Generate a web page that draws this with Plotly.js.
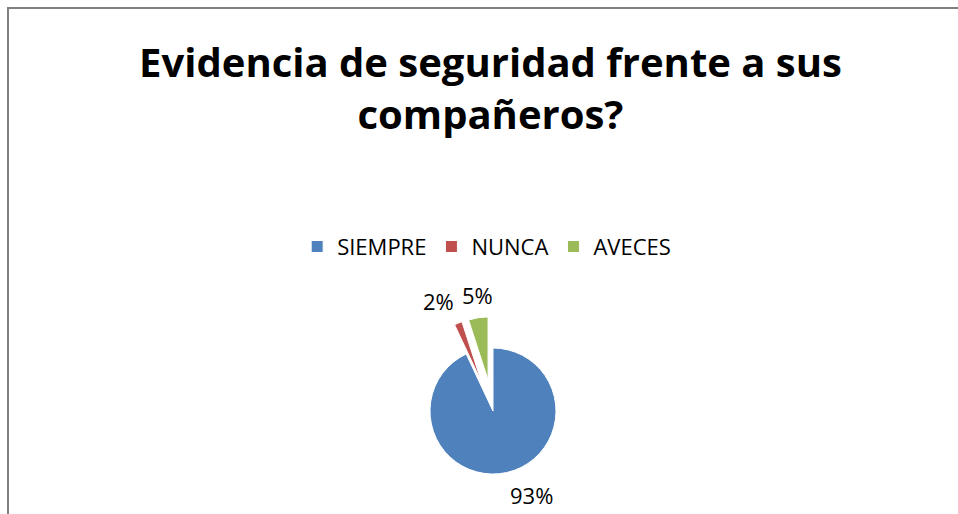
<!DOCTYPE html>
<html>
<head>
<meta charset="utf-8">
<script src="https://cdn.plot.ly/plotly-3.0.1.min.js"></script>
<style>html,body{margin:0;padding:0;background:#fff;}#chart{width:958px;height:514px;}</style>
</head>
<body>
<div id="chart"></div>
<script>
var categories = ["SIEMPRE", "NUNCA", "AVECES"];
var percentValues = [93, 2, 5];
var sliceColors = ["#4F81BD", "#C0504D", "#9BBB59"];
var slicePull = [0, 0.5, 0.5];
var chartTitle = "Evidencia de seguridad frente a sus<br>compañeros?";

var W = 958, H = 514;
var pieDomainX = [0.4102, 0.619];
var pieDomainY = [0.0165, 0.3842];

// Label positions derived from the data and the pie geometry (as plotly computes it)
var boxW = W * (pieDomainX[1] - pieDomainX[0]);
var boxH = H * (pieDomainY[1] - pieDomainY[0]);
var maxPull = Math.max.apply(null, slicePull);
var pieR = Math.min(boxW, boxH) / (2 + 2 * maxPull);
var pieCx = W * (pieDomainX[0] + pieDomainX[1]) / 2;
var pieCy = H * (1 - (pieDomainY[0] + pieDomainY[1]) / 2);
var total = percentValues.reduce(function (a, b) { return a + b; }, 0);
var annotations = [];
var cum = 0;
percentValues.forEach(function (v, i) {
  var mid = (cum + v / 2) / total * 2 * Math.PI; // clockwise from 12 o'clock
  cum += v;
  var dx = Math.sin(mid), dy = -Math.cos(mid);
  var sx = pieCx + dx * slicePull[i] * pieR;
  var sy = pieCy + dy * slicePull[i] * pieR;
  var dist = pieR + 6;
  var px = sx + dx * dist, py = sy + dy * dist;
  annotations.push({
    xref: "paper", yref: "paper",
    x: px / W, y: 1 - py / H,
    xanchor: dx > 0.3 ? "left" : (dx < -0.3 ? "right" : (dx >= 0 ? "left" : "center")),
    yanchor: dy > 0 ? "top" : "bottom",
    text: Math.round(v / total * 100) + "%",
    showarrow: false,
    font: {family: "'Open Sans', sans-serif", size: 22, color: "#000"}
  });
});

var trace = {
  type: "pie",
  labels: categories,
  values: percentValues,
  sort: false,
  direction: "clockwise",
  rotation: 0,
  pull: slicePull,
  marker: {colors: sliceColors, line: {color: "#ffffff", width: 1}},
  textinfo: "none",
  hoverinfo: "label+percent",
  domain: {x: pieDomainX, y: pieDomainY}
};

var layout = {
  width: W, height: H,
  margin: {l: 0, r: 0, t: 0, b: 0},
  paper_bgcolor: "#fff",
  showlegend: true,
  title: {
    text: chartTitle,
    font: {family: "'Open Sans', sans-serif", size: 40, color: "#000", weight: "bold"},
    x: 0.512, xanchor: "center",
    y: 0.85, yanchor: "top", yref: "container"
  },
  legend: {
    orientation: "h",
    x: 0.508, xanchor: "center",
    y: 0.52, yanchor: "middle",
    font: {family: "'Open Sans', sans-serif", size: 22, color: "#000"},
    traceorder: "normal"
  },
  annotations: annotations,
  shapes: [{
    type: "rect", xref: "paper", yref: "paper",
    x0: 8/W, x1: 1.02, y0: -0.02, y1: 1 - 8/H,
    line: {color: "#808080", width: 2}
  }]
};

Plotly.newPlot("chart", [trace], layout, {displayModeBar: false, staticPlot: true});
</script>
</body>
</html>
